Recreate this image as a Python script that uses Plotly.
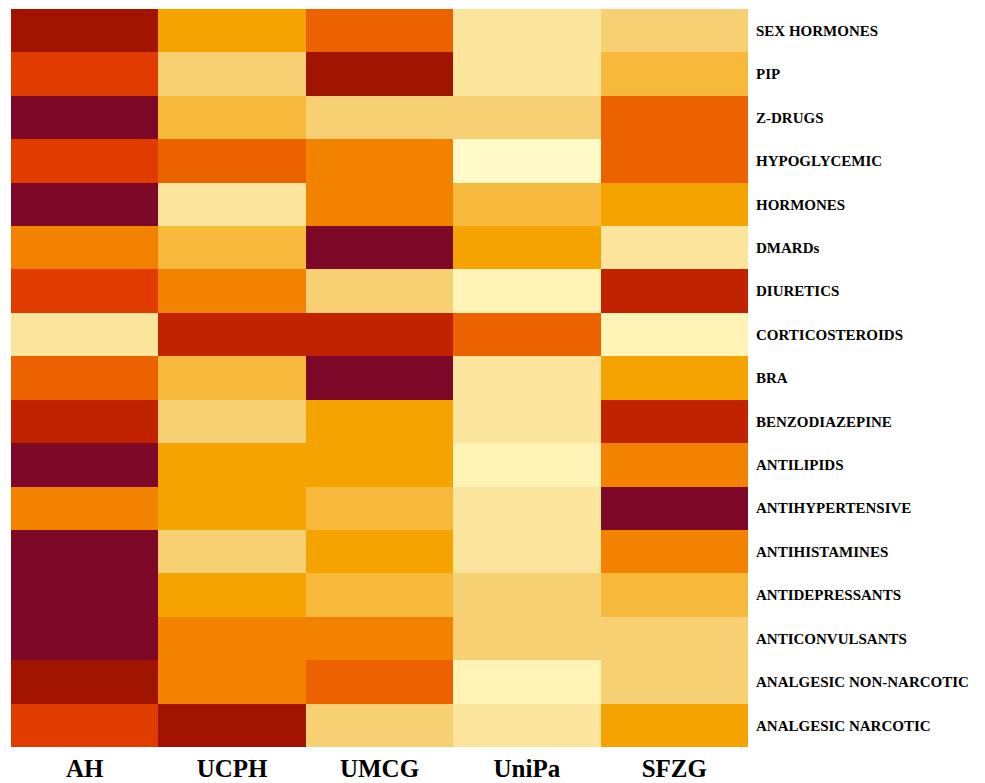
import plotly.graph_objects as go

centers = ["AH", "UCPH", "UMCG", "UniPa", "SFZG"]
drug_classes = [
    "SEX HORMONES", "PIP", "Z-DRUGS", "HYPOGLYCEMIC", "HORMONES", "DMARDs",
    "DIURETICS", "CORTICOSTEROIDS", "BRA", "BENZODIAZEPINE", "ANTILIPIDS",
    "ANTIHYPERTENSIVE", "ANTIHISTAMINES", "ANTIDEPRESSANTS", "ANTICONVULSANTS",
    "ANALGESIC NON-NARCOTIC", "ANALGESIC NARCOTIC",
]
levels = [
    [10, 5, 7, 2, 3],
    [8, 3, 10, 2, 4],
    [11, 4, 3, 3, 7],
    [8, 7, 6, 0, 7],
    [11, 2, 6, 4, 5],
    [6, 4, 11, 5, 2],
    [8, 6, 3, 1, 9],
    [2, 9, 9, 7, 1],
    [7, 4, 11, 2, 5],
    [9, 3, 5, 2, 9],
    [11, 5, 5, 1, 6],
    [6, 5, 4, 2, 11],
    [11, 3, 5, 2, 6],
    [11, 5, 4, 3, 4],
    [11, 6, 6, 3, 3],
    [10, 6, 7, 1, 3],
    [8, 10, 3, 2, 5],
]
palette = ["#FFFAC8", "#FFF3B6", "#FBE49B", "#F7D074", "#F7B93C", "#F4A300",
           "#F28200", "#EC6200", "#E03C00", "#C12200", "#A11500", "#7D0827"]

n = len(palette)
colorscale = []
for i, c in enumerate(palette):
    colorscale.append([i / n, c])
    colorscale.append([(i + 1) / n, c])

fig = go.Figure(go.Heatmap(
    z=levels, x=centers, y=drug_classes,
    colorscale=colorscale, zmin=-0.5, zmax=n - 0.5,
    showscale=False, xgap=0, ygap=0,
))

fig.update_layout(
    width=985, height=783,
    margin=dict(l=3, r=245, t=1, b=44),
    paper_bgcolor="white", plot_bgcolor="white",
    font=dict(family="Liberation Serif, Times New Roman, serif", color="black"),
)
fig.update_xaxes(
    side="bottom", showgrid=False, zeroline=False, ticks="", automargin=False,
    tickfont=dict(size=25, weight="bold", family="Liberation Serif"),
    ticklabelstandoff=4,
)
fig.update_yaxes(
    side="right", autorange="reversed", showgrid=False, zeroline=False, ticks="",
    automargin=False,
    tickfont=dict(size=15, weight="bold", family="Liberation Serif"),
    ticklabelstandoff=7,
)

fig.write_html("out.html")
